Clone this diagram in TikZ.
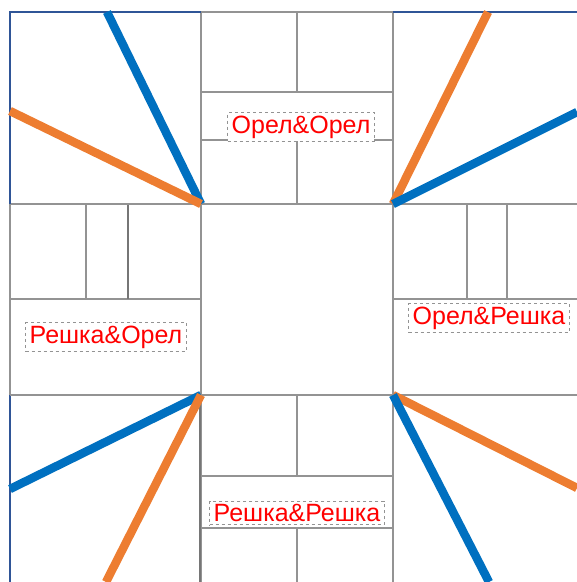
\documentclass[tikz,border=0pt]{standalone}
\usepackage{fontspec}
\setmainfont{Liberation Sans}
\definecolor{lblue}{HTML}{0070C0}
\definecolor{lorange}{HTML}{ED7D31}
\definecolor{lgray}{HTML}{939393}
\definecolor{dblue}{HTML}{2F5597}
\tikzset{
  grid/.style={draw=lgray, line width=1.8pt},
  gridthick/.style={draw=lgray!80!black, line width=2.4pt},
  frame/.style={draw=dblue, line width=2.6pt},
  ray/.style={line width=8.5pt},
  bluray/.style={ray, draw=lblue},
  orray/.style={ray, draw=lorange},
  lbl/.style={draw=lgray, dashed, line width=0.9pt, fill=white, text=red,
    font=\fontsize{25}{28}\selectfont, inner xsep=4pt, inner ysep=3pt}
}
\begin{document}
\begin{tikzpicture}[x=1pt,y=-1pt]
\useasboundingbox (0,0) rectangle (577,582);
\clip (0,0) rectangle (577,582);
% top middle
\draw[grid] (201,12) rectangle (393,204);
\draw[grid] (201,92) -- (393,92) (201,140) -- (393,140)
  (297,12) -- (297,92) (297,140) -- (297,204);
% left middle
\draw[grid] (10,204) rectangle (201,395);
\draw[grid] (10,299) -- (201,299) (86,204) -- (86,299);
\draw[gridthick] (128,204) -- (128,299);
% right middle
\draw[grid] (393,204) rectangle (590,395);
\draw[grid] (393,299) -- (590,299) (467,204) -- (467,299) (507,204) -- (507,299);
% bottom middle
\draw[grid] (201,395) rectangle (393,600);
\draw[grid] (201,476) -- (393,476) (201,528) -- (393,528)
  (297,395) -- (297,476) (297,528) -- (297,600);
\draw[gridthick] (200,395) -- (200,600);
% corner frames
\draw[grid] (201,12) -- (201,204) -- (10,204);
\draw[frame] (10,204) -- (10,12) -- (201,12);
\draw[frame] (393,12) -- (590,12);
\draw[frame] (10,395) -- (10,600);
\draw[grid] (10,395) -- (393,395) -- (590,395);
% corner points
\coordinate (TL) at (201,204);
\coordinate (TR) at (393,204);
\coordinate (BL) at (201,395);
\coordinate (BR) at (393,395);
\coordinate (tlb) at (107,12);
\coordinate (tlo) at (10,111);
\coordinate (tro) at (488,12);
\coordinate (trb) at (577,112);
\coordinate (blb) at (10,489);
\coordinate (blo) at (106,582);
\coordinate (bro) at (577,488);
\coordinate (brb) at (489,582);
\draw[bluray] (TL) -- (tlb);
\draw[orray] (TL) -- (tlo);
\draw[orray] (TR) -- (tro);
\draw[bluray] (TR) -- (trb);
\draw[bluray] (BL) -- (blb);
\draw[orray] (BL) -- (blo);
\draw[orray] (BR) -- (bro);
\draw[bluray] (BR) -- (brb);
% labels
\node[lbl] (oo) at (301,127) {Орел\&Орел};
\node[lbl] (ro) at (106,337) {Решка\&Орел};
\node[lbl] (or) at (489,318) {Орел\&Решка};
\node[lbl] (rr) at (297,513) {Решка\&Решка};
\end{tikzpicture}
\end{document}
